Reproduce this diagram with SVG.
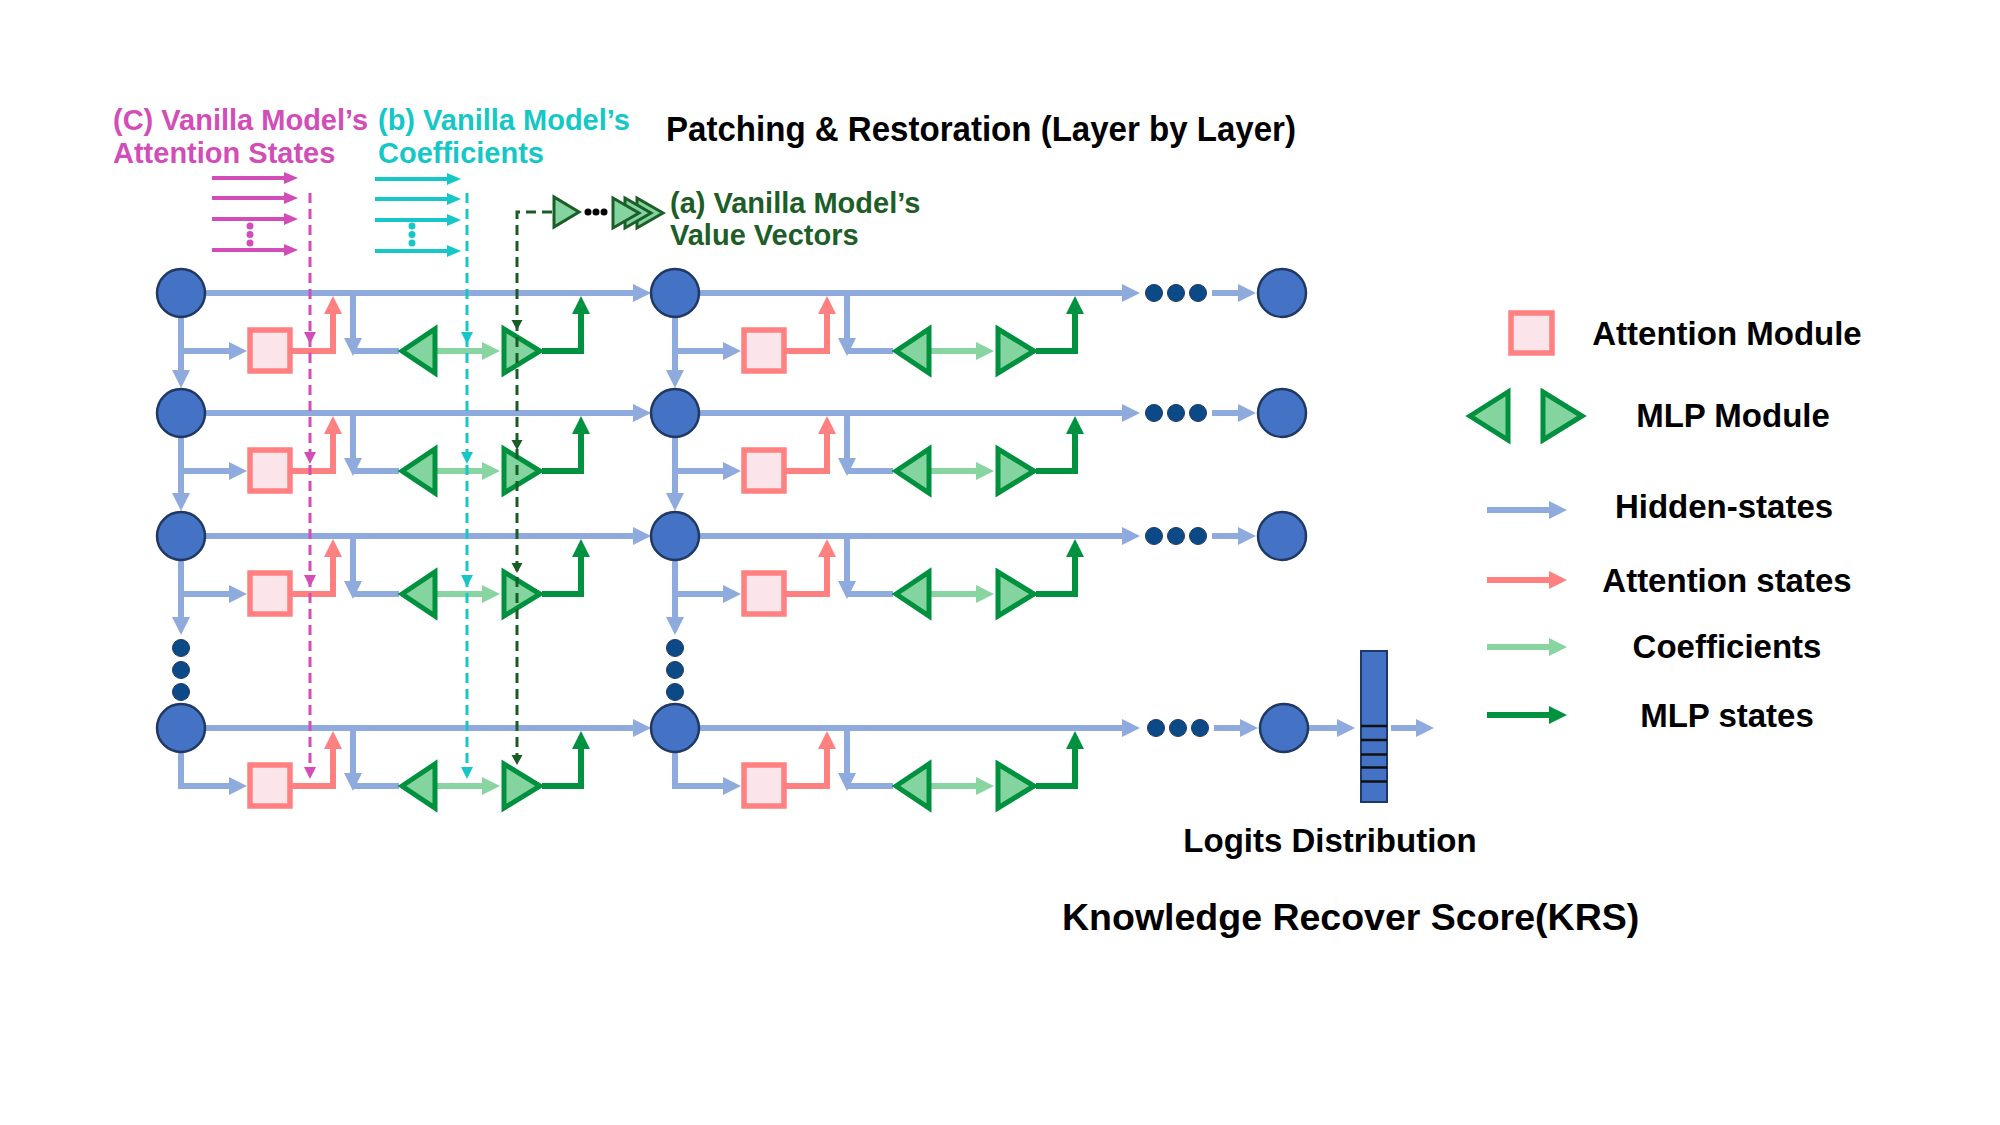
<svg xmlns="http://www.w3.org/2000/svg" xmlns:xlink="http://www.w3.org/1999/xlink" width="2000" height="1125" viewBox="0 0 2000 1125">
<style>
.hs{stroke:#8FAADC;stroke-width:6;fill:none}
.at{stroke:#FF8080;stroke-width:6;fill:none}
.cf{stroke:#88D5A1;stroke-width:6;fill:none}
.ml{stroke:#00923F;stroke-width:6;fill:none}
.node{fill:#4472C4;stroke:#1F3864;stroke-width:2.5}
.dot{fill:#0B4A86;stroke:#1F3864;stroke-width:1}
.box{fill:#FBE5EA;stroke:#FF8080;stroke-width:5.5}
.tri{fill:#84D4A0;stroke:#00913E;stroke-width:5}
.t{font-family:"Liberation Sans",Arial,sans-serif;font-weight:bold}
.pk{fill:#D24DB8}
.cy{fill:#15C7C7}
.dg{fill:#1D5E28}
</style>
<defs>
<marker id="mh" markerUnits="userSpaceOnUse" viewBox="0 0 18 18" markerWidth="18" markerHeight="18" refX="1" refY="9" orient="auto"><path d="M0,0 L18,9 L0,18 z" fill="#8FAADC"/></marker>
<marker id="ma" markerUnits="userSpaceOnUse" viewBox="0 0 18 18" markerWidth="18" markerHeight="18" refX="1" refY="9" orient="auto"><path d="M0,0 L18,9 L0,18 z" fill="#FF8080"/></marker>
<marker id="mc" markerUnits="userSpaceOnUse" viewBox="0 0 18 18" markerWidth="18" markerHeight="18" refX="1" refY="9" orient="auto"><path d="M0,0 L18,9 L0,18 z" fill="#88D5A1"/></marker>
<marker id="mm" markerUnits="userSpaceOnUse" viewBox="0 0 18 18" markerWidth="18" markerHeight="18" refX="1" refY="9" orient="auto"><path d="M0,0 L18,9 L0,18 z" fill="#00923F"/></marker>
<marker id="msp" markerUnits="userSpaceOnUse" viewBox="0 0 14 12" markerWidth="14" markerHeight="12" refX="1" refY="6" orient="auto"><path d="M0,0 L14,6 L0,12 z" fill="#D24DB8"/></marker>
<marker id="msc" markerUnits="userSpaceOnUse" viewBox="0 0 14 12" markerWidth="14" markerHeight="12" refX="1" refY="6" orient="auto"><path d="M0,0 L14,6 L0,12 z" fill="#15C7C7"/></marker>
<path id="dh" d="M-6,-12 L6,-12 L0,0 z"/>
<path id="dhs" d="M-5.5,-10 L5.5,-10 L0,0 z"/>
</defs>
<rect width="2000" height="1125" fill="#FFFFFF"/>

<g id="connectors">
<path class="hs" marker-end="url(#mh)" d="M205 293 H634"/>
<path class="hs" marker-end="url(#mh)" d="M205 413 H634"/>
<path class="hs" marker-end="url(#mh)" d="M205 536 H634"/>
<path class="hs" marker-end="url(#mh)" d="M205 728 H634"/>
<path class="hs" marker-end="url(#mh)" d="M699 293 H1123"/>
<path class="hs" marker-end="url(#mh)" d="M699 413 H1123"/>
<path class="hs" marker-end="url(#mh)" d="M699 536 H1123"/>
<path class="hs" marker-end="url(#mh)" d="M699 728 H1123"/>
<path class="hs" marker-end="url(#mh)" d="M1212 293 H1239"/>
<path class="hs" marker-end="url(#mh)" d="M1212 413 H1239"/>
<path class="hs" marker-end="url(#mh)" d="M1212 536 H1239"/>
<path class="hs" marker-end="url(#mh)" d="M1214 728 H1241"/>
<path class="hs" marker-end="url(#mh)" d="M1308 728 H1338"/>
<path class="hs" marker-end="url(#mh)" d="M1391 728 H1417"/>
<path class="hs" marker-end="url(#mh)" d="M181 317 V371"/>
<path class="hs" marker-end="url(#mh)" d="M181 437 V494"/>
<path class="hs" marker-end="url(#mh)" d="M181 560 V618"/>
<path class="hs" marker-end="url(#mh)" d="M675 317 V371"/>
<path class="hs" marker-end="url(#mh)" d="M675 437 V494"/>
<path class="hs" marker-end="url(#mh)" d="M675 560 V618"/>
<path class="hs" marker-end="url(#mh)" d="M181 351 H230"/>
<path class="hs" marker-end="url(#mh)" d="M181 471 H230"/>
<path class="hs" marker-end="url(#mh)" d="M181 594 H230"/>
<path class="hs" marker-end="url(#mh)" d="M181 752 V786 H230"/>
<path class="hs" marker-end="url(#mh)" d="M675 351 H724"/>
<path class="hs" marker-end="url(#mh)" d="M675 471 H724"/>
<path class="hs" marker-end="url(#mh)" d="M675 594 H724"/>
<path class="hs" marker-end="url(#mh)" d="M675 752 V786 H724"/>
<path class="hs" marker-end="url(#mh)" d="M353 293 V339"/>
<path class="hs" d="M353 351 H399"/>
<path class="hs" marker-end="url(#mh)" d="M353 413 V459"/>
<path class="hs" d="M353 471 H399"/>
<path class="hs" marker-end="url(#mh)" d="M353 536 V582"/>
<path class="hs" d="M353 594 H399"/>
<path class="hs" marker-end="url(#mh)" d="M353 728 V774"/>
<path class="hs" d="M353 786 H399"/>
<path class="hs" marker-end="url(#mh)" d="M847 293 V339"/>
<path class="hs" d="M847 351 H893"/>
<path class="hs" marker-end="url(#mh)" d="M847 413 V459"/>
<path class="hs" d="M847 471 H893"/>
<path class="hs" marker-end="url(#mh)" d="M847 536 V582"/>
<path class="hs" d="M847 594 H893"/>
<path class="hs" marker-end="url(#mh)" d="M847 728 V774"/>
<path class="hs" d="M847 786 H893"/>
<path class="at" marker-end="url(#ma)" d="M292 351 H333 V313"/>
<path class="at" marker-end="url(#ma)" d="M292 471 H333 V433"/>
<path class="at" marker-end="url(#ma)" d="M292 594 H333 V556"/>
<path class="at" marker-end="url(#ma)" d="M292 786 H333 V748"/>
<path class="at" marker-end="url(#ma)" d="M786 351 H827 V313"/>
<path class="at" marker-end="url(#ma)" d="M786 471 H827 V433"/>
<path class="at" marker-end="url(#ma)" d="M786 594 H827 V556"/>
<path class="at" marker-end="url(#ma)" d="M786 786 H827 V748"/>
<path class="cf" marker-end="url(#mc)" d="M437 351 H483"/>
<path class="cf" marker-end="url(#mc)" d="M437 471 H483"/>
<path class="cf" marker-end="url(#mc)" d="M437 594 H483"/>
<path class="cf" marker-end="url(#mc)" d="M437 786 H483"/>
<path class="cf" marker-end="url(#mc)" d="M931 351 H977"/>
<path class="cf" marker-end="url(#mc)" d="M931 471 H977"/>
<path class="cf" marker-end="url(#mc)" d="M931 594 H977"/>
<path class="cf" marker-end="url(#mc)" d="M931 786 H977"/>
<path class="ml" marker-end="url(#mm)" d="M542 351 H581 V313"/>
<path class="ml" marker-end="url(#mm)" d="M542 471 H581 V433"/>
<path class="ml" marker-end="url(#mm)" d="M542 594 H581 V556"/>
<path class="ml" marker-end="url(#mm)" d="M542 786 H581 V748"/>
<path class="ml" marker-end="url(#mm)" d="M1036 351 H1075 V313"/>
<path class="ml" marker-end="url(#mm)" d="M1036 471 H1075 V433"/>
<path class="ml" marker-end="url(#mm)" d="M1036 594 H1075 V556"/>
<path class="ml" marker-end="url(#mm)" d="M1036 786 H1075 V748"/>
</g>

<g id="ellipsis-dots">
<circle class="dot" cx="181" cy="648" r="8.5"/><circle class="dot" cx="181" cy="670" r="8.5"/><circle class="dot" cx="181" cy="692" r="8.5"/>
<circle class="dot" cx="675" cy="648" r="8.5"/><circle class="dot" cx="675" cy="670" r="8.5"/><circle class="dot" cx="675" cy="692" r="8.5"/>
<circle class="dot" cx="1154" cy="293" r="8.5"/><circle class="dot" cx="1176" cy="293" r="8.5"/><circle class="dot" cx="1198" cy="293" r="8.5"/>
<circle class="dot" cx="1154" cy="413" r="8.5"/><circle class="dot" cx="1176" cy="413" r="8.5"/><circle class="dot" cx="1198" cy="413" r="8.5"/>
<circle class="dot" cx="1154" cy="536" r="8.5"/><circle class="dot" cx="1176" cy="536" r="8.5"/><circle class="dot" cx="1198" cy="536" r="8.5"/>
<circle class="dot" cx="1156" cy="728" r="8.5"/><circle class="dot" cx="1178" cy="728" r="8.5"/><circle class="dot" cx="1200" cy="728" r="8.5"/>
</g>

<g id="node-L1"><circle class="node" cx="181" cy="293" r="24"/></g>
<g id="node-L2"><circle class="node" cx="181" cy="413" r="24"/></g>
<g id="node-L3"><circle class="node" cx="181" cy="536" r="24"/></g>
<g id="node-L4"><circle class="node" cx="181" cy="728" r="24"/></g>
<g id="node-M1"><circle class="node" cx="675" cy="293" r="24"/></g>
<g id="node-M2"><circle class="node" cx="675" cy="413" r="24"/></g>
<g id="node-M3"><circle class="node" cx="675" cy="536" r="24"/></g>
<g id="node-M4"><circle class="node" cx="675" cy="728" r="24"/></g>
<g id="node-R1"><circle class="node" cx="1282" cy="293" r="24"/></g>
<g id="node-R2"><circle class="node" cx="1282" cy="413" r="24"/></g>
<g id="node-R3"><circle class="node" cx="1282" cy="536" r="24"/></g>
<g id="node-R4"><circle class="node" cx="1284" cy="728" r="24"/></g>

<g id="attn-L1"><rect class="box" x="250" y="330" width="40" height="41"/></g>
<g id="attn-L2"><rect class="box" x="250" y="450" width="40" height="41"/></g>
<g id="attn-L3"><rect class="box" x="250" y="573" width="40" height="41"/></g>
<g id="attn-L4"><rect class="box" x="250" y="765" width="40" height="41"/></g>
<g id="attn-M1"><rect class="box" x="744" y="330" width="40" height="41"/></g>
<g id="attn-M2"><rect class="box" x="744" y="450" width="40" height="41"/></g>
<g id="attn-M3"><rect class="box" x="744" y="573" width="40" height="41"/></g>
<g id="attn-M4"><rect class="box" x="744" y="765" width="40" height="41"/></g>

<g id="mlp-L1"><polygon class="tri" points="402,351 435,329 435,373"/><polygon class="tri" points="504,329 504,373 540,351"/></g>
<g id="mlp-L2"><polygon class="tri" points="402,471 435,449 435,493"/><polygon class="tri" points="504,449 504,493 540,471"/></g>
<g id="mlp-L3"><polygon class="tri" points="402,594 435,572 435,616"/><polygon class="tri" points="504,572 504,616 540,594"/></g>
<g id="mlp-L4"><polygon class="tri" points="402,786 435,764 435,808"/><polygon class="tri" points="504,764 504,808 540,786"/></g>
<g id="mlp-M1"><polygon class="tri" points="896,351 929,329 929,373"/><polygon class="tri" points="998,329 998,373 1034,351"/></g>
<g id="mlp-M2"><polygon class="tri" points="896,471 929,449 929,493"/><polygon class="tri" points="998,449 998,493 1034,471"/></g>
<g id="mlp-M3"><polygon class="tri" points="896,594 929,572 929,616"/><polygon class="tri" points="998,572 998,616 1034,594"/></g>
<g id="mlp-M4"><polygon class="tri" points="896,786 929,764 929,808"/><polygon class="tri" points="998,764 998,808 1034,786"/></g>

<g id="logits">
<rect x="1361" y="651" width="26" height="151" fill="#4472C4" stroke="#1F3864" stroke-width="2"/>
<g stroke="#111" stroke-width="2.5">
<line x1="1361" y1="726" x2="1387" y2="726"/>
<line x1="1361" y1="740" x2="1387" y2="740"/>
<line x1="1361" y1="754.5" x2="1387" y2="754.5"/>
<line x1="1361" y1="767.5" x2="1387" y2="767.5"/>
<line x1="1361" y1="781.5" x2="1387" y2="781.5"/>
</g>
<text class="t" x="1330" y="852" font-size="33" text-anchor="middle" fill="#000">Logits Distribution</text>
</g>

<g id="patch-attention">
<g stroke="#D24DB8" stroke-width="4" fill="none">
<path marker-end="url(#msp)" d="M212 178 H285"/>
<path marker-end="url(#msp)" d="M212 198 H285"/>
<path marker-end="url(#msp)" d="M212 219 H285"/>
<path marker-end="url(#msp)" d="M212 250 H285"/>
<path stroke-width="3" stroke-dasharray="10 6" d="M310 193 V768"/>
</g>
<g fill="#D24DB8">
<circle cx="250" cy="226" r="3.5"/><circle cx="250" cy="234.5" r="3.5"/><circle cx="250" cy="243" r="3.5"/>
<use href="#dh" x="310" y="344"/><use href="#dh" x="310" y="464"/><use href="#dh" x="310" y="587"/><use href="#dh" x="310" y="779"/>
</g>
<text class="t pk" x="113" y="130" font-size="29">(C) Vanilla Model’s</text>
<text class="t pk" x="113" y="163" font-size="29">Attention States</text>
</g>

<g id="patch-coefficients">
<g stroke="#15C7C7" stroke-width="4" fill="none">
<path marker-end="url(#msc)" d="M375 179 H448"/>
<path marker-end="url(#msc)" d="M375 199 H448"/>
<path marker-end="url(#msc)" d="M375 220 H448"/>
<path marker-end="url(#msc)" d="M375 251 H448"/>
<path stroke-width="3" stroke-dasharray="10 6" d="M467 193 V768"/>
</g>
<g fill="#15C7C7">
<circle cx="412" cy="226" r="3.5"/><circle cx="412" cy="234.5" r="3.5"/><circle cx="412" cy="243" r="3.5"/>
<use href="#dh" x="467" y="344"/><use href="#dh" x="467" y="464"/><use href="#dh" x="467" y="587"/><use href="#dh" x="467" y="779"/>
</g>
<text class="t cy" x="378" y="130" font-size="29">(b) Vanilla Model’s</text>
<text class="t cy" x="378" y="163" font-size="29">Coefficients</text>
</g>

<g id="patch-values">
<path d="M552 212 H517 V756" stroke="#1A5C25" stroke-width="3" stroke-dasharray="10 6" fill="none"/>
<g fill="#1A5C25">
<use href="#dhs" x="517" y="330"/><use href="#dhs" x="517" y="450"/><use href="#dhs" x="517" y="573"/><use href="#dhs" x="517" y="765"/>
</g>
<polygon points="554,197 554,227 579,212" fill="#84D4A0" stroke="#1D5E28" stroke-width="3"/>
<g fill="#000"><circle cx="588" cy="212" r="3.5"/><circle cx="596" cy="212" r="3.5"/><circle cx="604" cy="212" r="3.5"/></g>
<g fill="#84D4A0" stroke="#1D5E28" stroke-width="3">
<polygon points="637,198 637,228 663,213"/>
<polygon points="625,198 625,228 651,213"/>
<polygon points="613,198 613,228 639,213"/>
</g>
<text class="t dg" x="670" y="213" font-size="29">(a) Vanilla Model’s</text>
<text class="t dg" x="670" y="245" font-size="29">Value Vectors</text>
</g>

<g id="titles">
<text class="t" x="666" y="141" font-size="35" textLength="630" lengthAdjust="spacingAndGlyphs" fill="#000">Patching &amp; Restoration (Layer by Layer)</text>
<text class="t" x="1062" y="930" font-size="37.5" fill="#000">Knowledge Recover Score(KRS)</text>
</g>

<g id="legend">
<rect class="box" x="1511" y="313" width="41" height="40"/>
<text class="t" x="1727" y="345" font-size="33" text-anchor="middle" fill="#000">Attention Module</text>
<polygon class="tri" points="1470,416 1508,392 1508,440"/>
<polygon class="tri" points="1543,392 1543,440 1582,416"/>
<text class="t" x="1733" y="427" font-size="33" text-anchor="middle" fill="#000">MLP Module</text>
<path class="hs" marker-end="url(#mh)" d="M1487 510 H1550"/>
<text class="t" x="1724" y="518" font-size="33" text-anchor="middle" fill="#000">Hidden-states</text>
<path class="at" marker-end="url(#ma)" d="M1487 580 H1550"/>
<text class="t" x="1727" y="592" font-size="33" text-anchor="middle" fill="#000">Attention states</text>
<path class="cf" marker-end="url(#mc)" d="M1487 647 H1550"/>
<text class="t" x="1727" y="658" font-size="33" text-anchor="middle" fill="#000">Coefficients</text>
<path class="ml" marker-end="url(#mm)" d="M1487 715 H1550"/>
<text class="t" x="1727" y="727" font-size="33" text-anchor="middle" fill="#000">MLP states</text>
</g>
</svg>
